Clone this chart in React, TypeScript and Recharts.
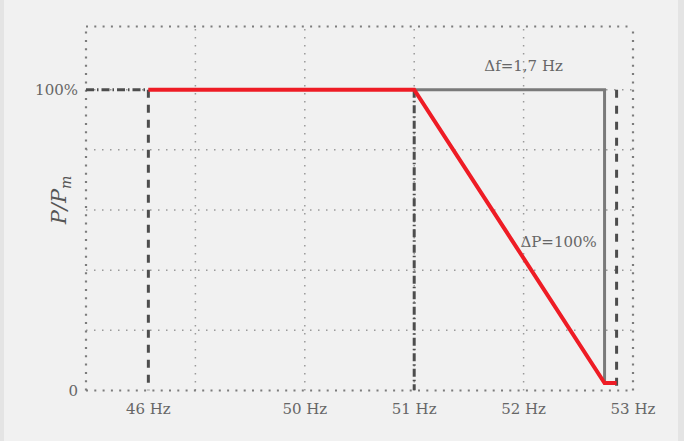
import React from 'react';
import { LineChart, Line, XAxis, YAxis, ReferenceLine, ReferenceDot } from 'recharts';

// axis positions: one gridline per Hz from 48 to 53, the 46 Hz start sits on a broken stretch
const GRID_F = [49, 50, 51, 52];
const GRID_P = [20, 40, 60, 80, 100];
const X_TICKS = [48.57, 50, 51, 52, 53];
const X_LABELS = ['46 Hz', '50 Hz', '51 Hz', '52 Hz', '53 Hz'];
const Y_TICKS = [0, 100];
const Y_LABELS = ['0', '100%'];

// red power response
const RESPONSE = [
  { f: 48.57, p: 100 },
  { f: 51, p: 100 },
  { f: 52.74, p: 2.5 },
  { f: 52.85, p: 2.5 },
];
// grey Δf / ΔP bracket
const DELTA = [
  { f: 51, p: 100 },
  { f: 52.74, p: 100 },
  { f: 52.74, p: 2.5 },
];
const START_LEVEL = [
  { f: 48, p: 100 },
  { f: 48.57, p: 100 },
];
const START_DROP = [
  { f: 48.57, p: 100 },
  { f: 48.57, p: 0 },
];
const KNEE_DROP = [
  { f: 51, p: 100 },
  { f: 51, p: 0 },
];
const END_DROP = [
  { f: 52.85, p: 100 },
  { f: 52.85, p: 0 },
];

const FONT = '"DejaVu Serif", serif';
const TEXT = '#666';
const DOT_INNER = { stroke: '#9a9a9a', strokeWidth: 1.5, strokeDasharray: '1.5 6.5' };
const DOT_BORDER = { stroke: '#7c7c7c', strokeWidth: 2.2, strokeDasharray: '2 6.3' };

const YLabel = (props: any) => {
  const cx = 66;
  const cy = 200;
  return (
    <text
      x={cx}
      y={cy}
      transform={`rotate(-90, ${cx}, ${cy})`}
      textAnchor="middle"
      fill="#555"
      fontFamily={FONT}
      fontStyle="italic"
      fontSize={21}
    >
      P/P
      <tspan fontSize={14} dy={5}>
        m
      </tspan>
    </text>
  );
};

export default function App() {
  return (
    <div style={{ position: 'absolute', left: 0, top: 0, width: 684, height: 441, background: '#e4e4e4' }}>
      <div style={{ position: 'absolute', left: 4, top: 0, width: 674, height: 441, background: '#f1f1f1' }} />
      <div style={{ position: 'absolute', left: 0, top: 0 }}>
        <LineChart width={684} height={441} margin={{ top: 26.5, right: 51, bottom: 20.5, left: 0 }}>
          <XAxis
            dataKey="f"
            type="number"
            domain={[48, 53]}
            ticks={X_TICKS}
            tickFormatter={(v: number) => X_LABELS[X_TICKS.indexOf(v)]}
            axisLine={false}
            tickLine={false}
            tickMargin={7}
            height={30}
            tick={{ fill: TEXT, fontSize: 15, fontFamily: FONT }}
            interval={0}
          />
          <YAxis
            type="number"
            domain={[0, 121]}
            ticks={Y_TICKS}
            tickFormatter={(v: number) => Y_LABELS[Y_TICKS.indexOf(v)]}
            axisLine={false}
            tickLine={false}
            width={86}
            tick={{ fill: TEXT, fontSize: 15, fontFamily: FONT }}
            label={{ content: <YLabel /> }}
            allowDataOverflow
          />

          {GRID_F.map((f) => (
            <ReferenceLine key={'gf' + f} x={f} {...DOT_INNER} />
          ))}
          {GRID_P.map((p) => (
            <ReferenceLine key={'gp' + p} y={p} {...DOT_INNER} />
          ))}
          <ReferenceLine x={48} {...DOT_BORDER} />
          <ReferenceLine x={53} {...DOT_BORDER} />
          <ReferenceLine y={0} {...DOT_BORDER} />
          <ReferenceLine y={121} {...DOT_BORDER} />

          <Line data={START_LEVEL} dataKey="p" stroke="#4d4d4d" strokeWidth={3} strokeDasharray="8 3 1.5 3" dot={false} isAnimationActive={false} />
          <Line data={START_DROP} dataKey="p" stroke="#4d4d4d" strokeWidth={3} strokeDasharray="8 7" dot={false} isAnimationActive={false} />
          <Line data={KNEE_DROP} dataKey="p" stroke="#4d4d4d" strokeWidth={3} strokeDasharray="8 3 1.5 3" dot={false} isAnimationActive={false} />
          <Line data={END_DROP} dataKey="p" stroke="#4d4d4d" strokeWidth={3} strokeDasharray="8 8" dot={false} isAnimationActive={false} />
          <Line data={DELTA} dataKey="p" stroke="#7a7a7a" strokeWidth={3} dot={false} isAnimationActive={false} />
          <Line data={RESPONSE} dataKey="p" stroke="#ee1c25" strokeWidth={4} strokeLinejoin="miter" dot={false} isAnimationActive={false} />

          <ReferenceDot
            x={52}
            y={108}
            r={0}
            label={{ value: 'Δf=1,7 Hz', fill: TEXT, fontSize: 15, fontFamily: FONT, position: 'center' }}
          />
          <ReferenceDot
            x={52.32}
            y={49.5}
            r={0}
            label={{ value: 'ΔP=100%', fill: TEXT, fontSize: 15, fontFamily: FONT, position: 'center' }}
          />
        </LineChart>
      </div>
    </div>
  );
}
